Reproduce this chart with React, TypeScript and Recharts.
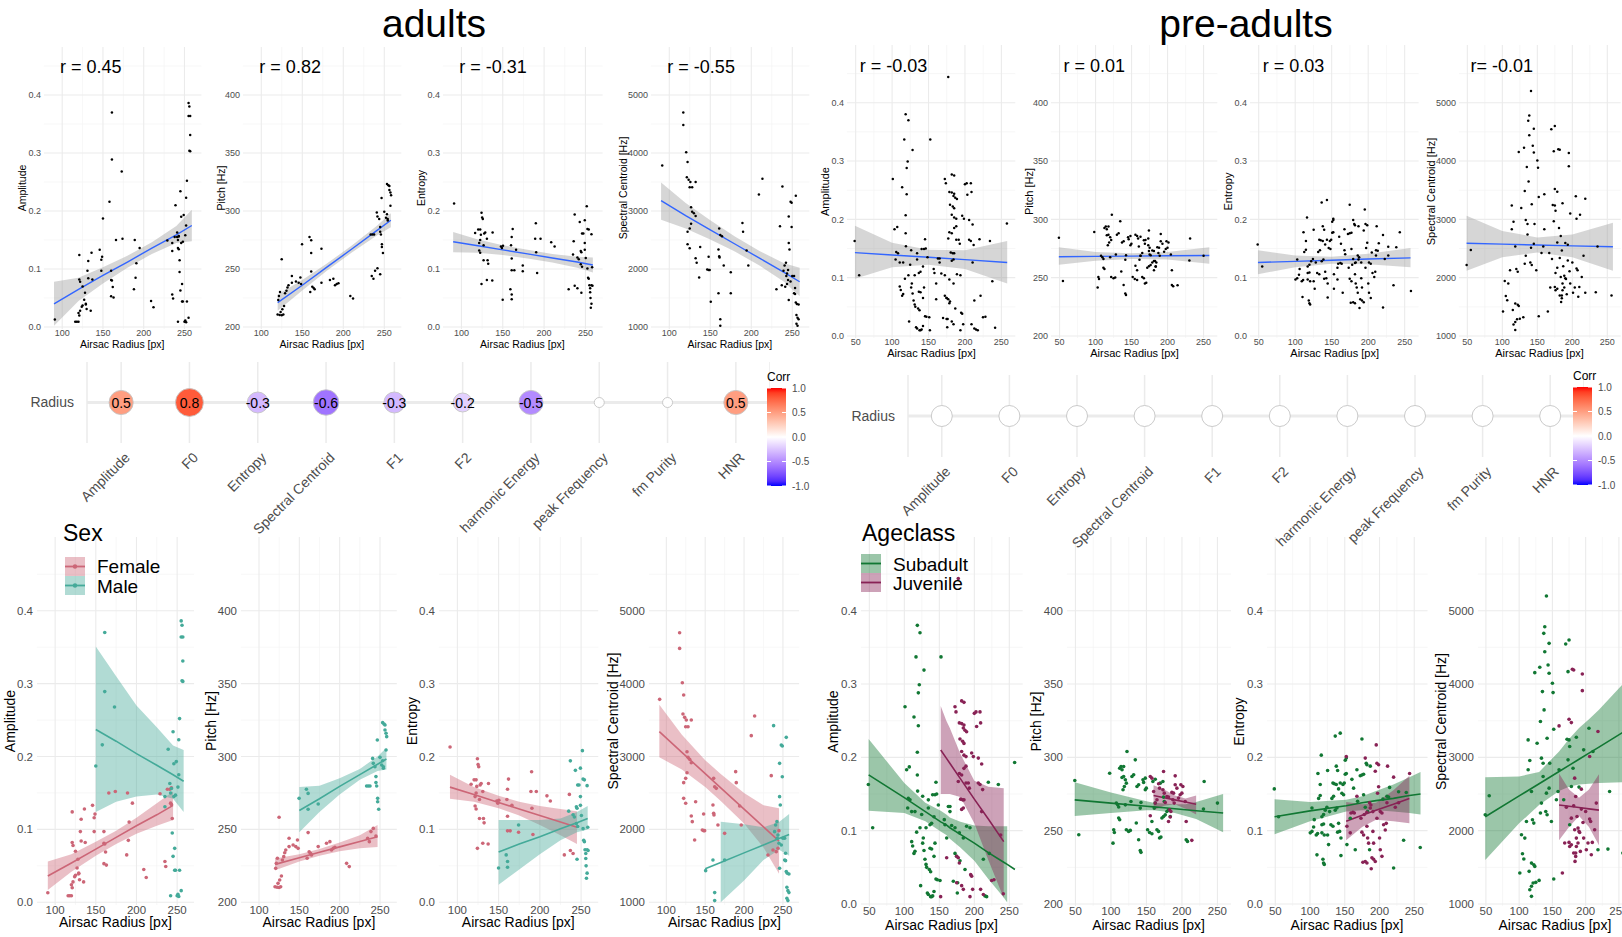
import React from "react";
import {
  CartesianGrid,
  ComposedChart,
  Area,
  Line,
  Scatter,
  ScatterChart,
  XAxis,
  YAxis,
} from "recharts";

type Pt = [number, number];
type Fit = [number, number | null, number, number | null]; // x, lower, fit, upper

const FONT = "'Liberation Sans', Arial, Helvetica, sans-serif";
const TICK = "#4D4D4D";

// ---- adults: points per sex (airsac radius, value) ----
const femaleAmp: Pt[] = [
  [91, 0.013], [116, 0.009], [118, 0.009], [120, 0.009], [121, 0.02], [120, 0.024], [122, 0.028], [124, 0.035],
  [125, 0.037], [121, 0.124], [122, 0.078], [121, 0.082], [125, 0.07], [127, 0.047], [129, 0.039], [130, 0.031],
  [128, 0.059], [131, 0.097], [132, 0.114], [132, 0.084], [136, 0.128], [137, 0.082], [146, 0.133], [148, 0.116],
  [149, 0.121], [148, 0.097], [135, 0.028], [129, 0.04], [160, 0.081], [161, 0.08], [160, 0.097], [160, 0.053],
  [162, 0.069], [163, 0.051], [166, 0.15], [174, 0.152], [189, 0.15], [190, 0.085], [191, 0.11], [195, 0.136],
  [188, 0.065], [209, 0.045], [212, 0.034], [229, 0.149], [235, 0.056], [236, 0.049], [238, 0.155], [241, 0.155],
  [243, 0.157], [242, 0.136], [244, 0.115], [243, 0.134],
];
const maleAmp: Pt[] = [
  [150, 0.187], [158, 0.216], [161, 0.37], [161, 0.289], [173, 0.268], [235, 0.131], [239, 0.21], [241, 0.163],
  [242, 0.15], [243, 0.156], [244, 0.095], [245, 0.234], [245, 0.063], [246, 0.19], [247, 0.074], [247, 0.044],
  [248, 0.044], [249, 0.193], [251, 0.158], [253, 0.252], [252, 0.175], [252, 0.223], [253, 0.044], [250, 0.009],
  [252, 0.008], [251, 0.011], [242, 0.009], [255, 0.016], [255, 0.386], [256, 0.38], [255, 0.364], [257, 0.364],
  [257, 0.331], [256, 0.304], [257, 0.303], [235, 0.145], [246, 0.145], [248, 0.147],
];
const femalePitch: Pt[] = [
  [120.7, 223.3], [121.5, 226.7], [122.8, 230.2], [119.9, 210.7], [122.4, 210.3], [124.9, 210.1], [126.9, 210.7],
  [123.6, 213], [125.7, 215.3], [127.8, 218], [124.9, 258.3], [129, 229], [130.7, 231.3], [131.9, 234], [133.2, 235.9],
  [137.3, 238.2], [137.3, 243.9], [142.3, 239.3], [145.6, 238.2], [148.5, 237], [147.7, 242.7], [159.7, 230.2],
  [160.9, 247.8], [162.2, 234.7], [163.8, 233.6], [165.1, 232.5], [173.4, 238.2], [183.7, 240.5], [187.9, 241.6],
  [189.9, 235.9], [192, 237], [194.1, 237.7], [208.6, 226.7], [211.9, 224.5], [234.7, 243.9], [236.8, 241.6],
  [238.8, 248.5], [241.7, 250.7], [245, 245.5],
];
const malePitch: Pt[] = [
  [149.7, 271.3], [158.8, 277.5], [160.9, 274.7], [160.9, 263.8], [173.4, 267.4], [233.4, 279.8], [235.5, 279.8],
  [237.6, 279.8], [240.9, 298.7], [241.7, 295.3], [243.8, 293], [245, 286.2], [245, 282.1], [245.9, 279.8],
  [246.7, 311.3], [247.1, 271.3], [247.1, 269], [248.4, 263.8], [250, 299.4], [252.1, 294.2], [254.2, 293],
  [253.3, 323.2], [255, 322.3], [256.2, 321.6], [256.2, 318.2], [257.5, 315.9], [258.3, 313.6], [257.5, 304.5],
  [253.3, 297.1], [254.2, 291.9],
];
const femaleEnt: Pt[] = [
  [91.1, 0.213], [116.6, 0.162], [120.3, 0.168], [122.7, 0.168], [121.5, 0.145], [122.7, 0.15], [123.5, 0.159],
  [121.5, 0.132], [122.7, 0.128], [124.3, 0.197], [125.1, 0.189], [125.9, 0.186], [126.8, 0.141], [127.6, 0.161],
  [128.8, 0.163], [126.8, 0.115], [124.3, 0.074], [130.8, 0.152], [131.6, 0.115], [132.4, 0.109], [130.8, 0.081],
  [137.7, 0.163], [137.3, 0.08], [147.8, 0.139], [149, 0.136], [150.3, 0.14], [160, 0.141], [160.8, 0.155],
  [162, 0.169], [160.8, 0.118], [160.8, 0.098], [164, 0.098], [166.1, 0.133], [174.2, 0.096], [190, 0.179],
  [189.2, 0.152], [195.7, 0.152], [190.4, 0.129], [208.6, 0.146], [212.7, 0.139], [191.6, 0.093], [229.7, 0.065],
  [235.8, 0.148], [237, 0.071], [240.3, 0.067],
];
const maleEnt: Pt[] = [
  [149.9, 0.047], [159.2, 0.065], [160.8, 0.056], [160.8, 0.048], [174.2, 0.106], [237, 0.194], [235, 0.125],
  [240.3, 0.12], [241.9, 0.117], [243.1, 0.181], [244.3, 0.131], [245.1, 0.129], [244.3, 0.108], [245.9, 0.104],
  [245.1, 0.059], [245.9, 0.161], [247.5, 0.161], [249.2, 0.184], [249.2, 0.145], [249.2, 0.133], [250.4, 0.119],
  [251.6, 0.208], [252.4, 0.169], [254, 0.168], [252.4, 0.101], [253.2, 0.085], [254, 0.083], [254.8, 0.072],
  [255.7, 0.067], [255.7, 0.06], [256.1, 0.05], [257.3, 0.04], [256.5, 0.033], [257.3, 0.16], [257.3, 0.072],
  [258.5, 0.071], [258.1, 0.103],
];
const femaleSC: Pt[] = [
  [91.4, 3784], [117.1, 4698], [117.1, 4483], [120.6, 4012], [122.3, 3843], [121.4, 3583], [123.6, 3537],
  [125.7, 3500], [124.9, 3409], [127.9, 3409], [132.1, 3500], [126.6, 3066], [127.9, 2988], [130, 2961],
  [132.1, 2915], [126.6, 2778], [124.9, 2700], [122.3, 2641], [122.3, 2426], [124.9, 2358], [137.7, 2380],
  [132.1, 2184], [133.4, 2106], [136.4, 1855], [148, 2211], [146.3, 1992], [148, 1983], [149.3, 1983],
  [160.9, 2700], [162.2, 2586], [164.3, 2563], [160, 2335], [160.9, 2220], [161.3, 2197], [166.4, 2060],
  [175, 1946], [189.2, 2792], [190, 2641], [194.3, 2321], [196.4, 2060], [209.3, 3286], [213.6, 3555],
  [235, 2737], [230.7, 1649], [237.2, 1718], [241.4, 1695], [243.6, 1741], [244.9, 1983],
];
const maleSC: Pt[] = [
  [150.6, 1434], [160, 1580], [162.2, 1133], [162.2, 1023], [175, 1580], [238, 3423], [242.7, 1878], [243.6, 1923],
  [239.3, 1969], [240.6, 2060], [242.3, 2106], [244.9, 1809], [245.7, 2449], [246.6, 2335], [245.7, 2906],
  [247.9, 3158], [249.2, 3144], [249.2, 2723], [245.7, 1466], [247.9, 1786], [250, 1878], [252.2, 1878],
  [252.2, 1581], [253.4, 1571], [254.3, 3263], [253.4, 1672], [254.3, 1421], [255.6, 1398], [257.7, 1389],
  [255.1, 1206], [256.4, 1160], [257.7, 1133], [255.1, 1055], [256.4, 1023],
];

// ---- pre-adults: points per age class ----
const subAmp: Pt[] = [
  [48.6, 0.163], [54.8, 0.104], [101, 0.269], [103.3, 0.183], [107.1, 0.187], [105.7, 0.144], [108.1, 0.142],
  [104.8, 0.131], [113.8, 0.255], [110.5, 0.085], [111.9, 0.079], [115.2, 0.072], [113.8, 0.069], [110.5, 0.126],
  [115.2, 0.126], [116.7, 0.337], [118.6, 0.38], [120, 0.288], [121.4, 0.299], [122.4, 0.37], [118.6, 0.207],
  [120, 0.243], [118.6, 0.176], [119, 0.154], [117.6, 0.098], [122.4, 0.104], [123.3, 0.025], [124.8, 0.122],
  [126.2, 0.147], [128.1, 0.319], [127.1, 0.09], [126.2, 0.083], [128.1, 0.073], [129.5, 0.061], [131, 0.104],
  [131, 0.054], [131.9, 0.05], [134.3, 0.131], [134.3, 0.142], [136.7, 0.108], [135.7, 0.047], [137.6, 0.044],
  [136.7, 0.076], [139, 0.075], [132.9, 0.015], [134.3, 0.013], [137.6, 0.01], [139, 0.01], [140.5, 0.011],
  [142.4, 0.017], [143.8, 0.083], [142.4, 0.065], [140.5, 0.149], [143.8, 0.149], [146.2, 0.15], [145.2, 0.166],
  [142.4, 0.119], [139, 0.11], [145.2, 0.034], [147.1, 0.033], [148.6, 0.135], [152.4, 0.337], [151, 0.032],
  [157.1, 0.115], [158.1, 0.108], [160.5, 0.09], [162.9, 0.133], [165.2, 0.133], [165.2, 0.126], [167.6, 0.107],
  [170, 0.031], [172.4, 0.069], [174.8, 0.065], [175.7, 0.015], [176.2, 0.029], [172.4, 0.104], [179.5, 0.059],
  [178.6, 0.097], [184.3, 0.09], [186.7, 0.047], [189, 0.106], [193.8, 0.104], [212.9, 0.061], [215.2, 0.011],
  [217.6, 0.01], [220, 0.166], [234.3, 0.163], [257.6, 0.193], [221.4, 0.069],
];
const juvAmp: Pt[] = [
  [151.9, 0.01], [160.5, 0.063], [172.4, 0.269], [173.8, 0.262], [178.6, 0.056], [181.9, 0.277], [185.2, 0.275],
  [178.6, 0.247], [181.9, 0.246], [185.2, 0.244], [184.3, 0.24], [186.7, 0.237], [179.5, 0.225], [183.3, 0.222],
  [185.2, 0.219], [189, 0.235], [181.9, 0.208], [185.2, 0.203], [188.1, 0.201], [178.6, 0.178], [181.9, 0.176],
  [185.2, 0.185], [188.1, 0.188], [177.1, 0.167], [180.5, 0.143], [183.3, 0.142], [185.2, 0.142], [181.9, 0.129],
  [184.3, 0.131], [188.1, 0.165], [191.4, 0.165], [192.9, 0.158], [196.2, 0.206], [198.6, 0.201], [200, 0.26],
  [202.4, 0.262], [203.3, 0.242], [205.7, 0.199], [208.1, 0.262], [209, 0.247], [210.5, 0.191], [205.7, 0.165],
  [208.1, 0.163], [211.9, 0.156], [174.8, 0.065], [177.1, 0.063], [174.8, 0.029], [181.9, 0.025], [184.3, 0.02],
  [193.8, 0.01], [197.6, 0.02], [194.8, 0.04], [196.2, 0.038], [209, 0.02], [212.9, 0.013], [224.8, 0.032],
  [228.1, 0.033], [241.4, 0.014], [237.6, 0.094], [210.5, 0.126], [177.1, 0.444],
];
const subPitch: Pt[] = [
  [49.1, 284.2], [54.7, 247.2], [98.2, 289.2], [102.9, 241.5], [103.9, 250.6], [104.8, 248.8], [107.6, 268.8],
  [109.5, 267.6], [110.9, 266.1], [110.9, 258.6], [112.3, 257.4], [112.3, 292.6], [114.2, 293.8], [115.6, 291.5],
  [117.9, 293.8], [115.6, 286.3], [117.9, 286.9], [120.3, 284.7], [122.6, 304], [117, 277.9], [118.9, 280.1],
  [121.7, 282.4], [120.3, 267.6], [121.7, 250.6], [124.9, 249.5], [127.3, 250.2], [128.2, 269.9], [129.6, 286.9],
  [132, 288.1], [134.3, 298.3], [136.7, 280.1], [139, 281.3], [135.7, 255.2], [139, 243.8], [141.3, 236.5],
  [142.3, 235.2], [142.3, 269.2], [145.1, 284.7], [146, 282.9], [148.4, 285.8], [148.4, 277.9], [149.8, 279],
  [141.3, 265.4], [151.6, 250.6], [154.4, 248.8], [157.7, 247.9], [157.7, 256.3], [161, 265.4], [162.4, 268.8],
  [164.8, 250.6], [167.1, 249.5], [159.1, 283.5], [162.4, 285.1], [169.4, 282.4], [173.2, 283.5], [174.1, 272.9],
  [175.1, 269.9], [171.8, 258.6], [168.5, 245], [170.4, 245.6], [174.1, 259.7], [176.5, 260.8], [178.8, 263.1],
  [181.1, 264.2], [183.5, 259.7], [206, 243.8], [207.8, 242.7], [230.3, 264.7], [231.3, 283.5], [250, 268.8],
];
const juvPitch: Pt[] = [
  [155.4, 286.9], [157.7, 285.8], [155.4, 260.2], [160.1, 276.7], [162.4, 268.8], [167.1, 282], [168.5, 279],
  [174.1, 290.4], [173.2, 277.9], [175.1, 275.6], [176.5, 269.2], [178.8, 273.3], [181.1, 272.9], [182.6, 264.2],
  [184.4, 263.1], [181.1, 256.3], [183.5, 259.3], [185.8, 276.1], [188.2, 275.6], [187.2, 271.1], [190.5, 281.3],
  [192.9, 279], [190.5, 287.4], [195.2, 272.2], [197.5, 274.5], [199.9, 275.6], [198.5, 281.3], [201.3, 280.1],
  [204.6, 269.9], [206, 256.3], [213.9, 243.4], [164.8, 271.1], [189.1, 268.8],
];
const subEnt: Pt[] = [
  [48.6, 0.157], [54.8, 0.119], [100.4, 0.097], [102.8, 0.099], [106.1, 0.115], [105.2, 0.105], [109, 0.094],
  [110.9, 0.096], [110, 0.067], [111.4, 0.178], [112.4, 0.144], [114.7, 0.148], [114.7, 0.163], [116.2, 0.203],
  [117.1, 0.119], [119.5, 0.122], [117.1, 0.108], [119.5, 0.109], [117.1, 0.097], [120.5, 0.094], [118.6, 0.061],
  [119.5, 0.056], [120.5, 0.054], [121.9, 0.128], [124.3, 0.132], [125.3, 0.182], [125.3, 0.094], [126.7, 0.081],
  [128.2, 0.126], [130.1, 0.108], [133, 0.106], [131.5, 0.144], [133.9, 0.147], [133, 0.165], [134.9, 0.164],
  [137.8, 0.163], [136.3, 0.128], [138.7, 0.131], [136.3, 0.229], [137.8, 0.188], [139.7, 0.182], [141.1, 0.11],
  [139.7, 0.098], [142.6, 0.099], [141.1, 0.157], [143.5, 0.233], [144.5, 0.09], [144.5, 0.066], [143.5, 0.165],
  [147.4, 0.163], [149.3, 0.165], [150.7, 0.177], [152.2, 0.178], [150.7, 0.196], [152.2, 0.199], [145.9, 0.151],
  [148.3, 0.149], [153.1, 0.081], [157.9, 0.117], [162.7, 0.158], [160.3, 0.17], [165.1, 0.074], [167.5, 0.183],
  [168.5, 0.14], [172.3, 0.175], [174.7, 0.176], [177.1, 0.177], [174.7, 0.225], [177.1, 0.149], [180.9, 0.192],
  [181.9, 0.19], [179.5, 0.132], [182.9, 0.126], [185.7, 0.074], [186.7, 0.188], [204.9, 0.143], [210.7, 0.147],
  [213.1, 0.146], [214.5, 0.159], [220.3, 0.049], [227.5, 0.153], [234.7, 0.087], [238.5, 0.152], [258.6, 0.077],
  [102.8, 0.131],
];
const juvEnt: Pt[] = [
  [152.2, 0.201], [153.1, 0.106], [157.9, 0.097], [158.9, 0.124], [161.8, 0.125], [163.7, 0.124], [167.5, 0.147],
  [173.3, 0.117], [174.7, 0.098], [177.1, 0.094], [176.1, 0.057], [179.5, 0.058], [181.9, 0.056], [178.1, 0.122],
  [181.9, 0.125], [179.5, 0.199], [181.9, 0.106], [182.9, 0.09], [184.3, 0.083], [185.7, 0.138], [187.6, 0.135],
  [186.7, 0.131], [190.5, 0.126], [189.1, 0.063], [191.5, 0.061], [193.9, 0.058], [188.1, 0.048], [190.5, 0.099],
  [193.9, 0.181], [196.3, 0.192], [198.7, 0.19], [195.3, 0.217], [197.2, 0.151], [198.7, 0.16], [196.3, 0.117],
  [201.1, 0.126], [203.5, 0.124], [200.1, 0.09], [201.1, 0.074], [203.5, 0.065], [205.9, 0.108], [208.3, 0.101],
  [209.7, 0.11], [211.6, 0.188], [210.7, 0.138], [220.3, 0.173], [222.7, 0.132], [227.5, 0.138], [243.3, 0.178],
  [191.5, 0.083],
];
const subSC: Pt[] = [
  [49, 2217], [55, 2476], [101, 1422], [103.5, 1944], [105, 1686], [107, 1613], [108.5, 1899], [111, 2126],
  [113.5, 2830], [115, 1445], [116, 1195], [118.5, 1241], [121, 1286], [118.5, 1104], [118.5, 1558], [116, 2957],
  [113.5, 3238], [118.5, 2535], [120, 2149], [122, 2103], [122, 1536], [123.5, 1513], [125, 1295], [123.5, 4155],
  [127, 3193], [130, 1322], [131, 4228], [132, 3488], [135, 3897], [133.5, 2989], [136, 2920], [133.5, 2376],
  [132, 2240], [136, 2739], [137.5, 3647], [138.5, 4441], [138.5, 4782], [137, 4691], [140, 2262], [142, 2217],
  [141, 5200], [143.5, 4260], [145, 4146], [145, 4555], [142, 3261], [141, 2512], [145, 2580], [146, 2920],
  [148.5, 2126], [150, 4010], [151, 3883], [152, 1340], [152, 3384], [156, 2421], [158.5, 2535], [160, 2830],
  [167, 2421], [170, 4546], [173.5, 4169], [175, 4600], [172, 3247], [175, 3238], [176, 3147], [173.5, 2966],
  [176, 2080], [178.5, 2603], [181, 2852], [186, 3275], [190, 2594], [197, 3102], [205, 3397], [211, 3079],
  [218.5, 1740], [233.5, 1749], [236, 2535], [256, 1695],
];
const juvSC: Pt[] = [
  [160, 3429], [165, 1422], [171, 2321], [175, 3520], [178.5, 3474], [180, 4201], [182, 4192], [175, 1840],
  [178.5, 1808], [176, 1785], [182, 1695], [178.5, 2171], [182, 2339], [183.5, 2012], [184, 1581], [185, 1695],
  [185, 1649], [186, 1785], [188.5, 1831], [183.5, 2716], [185, 2466], [186, 1899], [188.5, 2035], [190, 1990],
  [191, 1976], [187, 2194], [192, 1717], [193.5, 2294], [193.5, 2566], [195, 4137], [195, 3910], [196, 2112],
  [197, 1899], [200, 2262], [201, 1740], [203.5, 1831], [206, 2158], [206, 3011], [207.5, 2126], [208.5, 1672],
  [210, 1840], [213.5, 2012], [218.5, 3352], [216, 2376], [168.5, 1831],
];

// ---- fitted lines with confidence bands ----
const topAmpAdultFit: Fit[] = [[90, 0.002, 0.04, 0.078], [120, 0.045, 0.065, 0.085], [150, 0.075, 0.089, 0.103], [180, 0.102, 0.112, 0.123], [210, 0.126, 0.136, 0.146], [240, 0.145, 0.159, 0.174], [259, 0.148, 0.175, 0.202]];
const topPitchAdultFit: Fit[] = [[120, 214, 221, 228], [150, 231.5, 236, 240.5], [180, 248.5, 251.6, 254.7], [210, 264, 267, 270], [240, 278.5, 282.6, 286.7], [258, 286, 292, 298]];
const topEntAdultFit: Fit[] = [[90, 0.129, 0.147, 0.164], [120, 0.128, 0.14, 0.151], [150, 0.124, 0.133, 0.141], [180, 0.118, 0.126, 0.133], [210, 0.111, 0.119, 0.126], [240, 0.102, 0.112, 0.121], [259, 0.094, 0.107, 0.12]];
const topScAdultFit: Fit[] = [[90, 2850, 3180, 3490], [120, 2700, 2920, 3140], [150, 2510, 2675, 2840], [180, 2300, 2431, 2560], [210, 2060, 2187, 2310], [240, 1780, 1943, 2100], [259, 1530, 1780, 2020]];
const topAmpPreFit: Fit[] = [[49, 0.098, 0.143, 0.189], [100, 0.118, 0.139, 0.16], [150, 0.122, 0.135, 0.148], [200, 0.115, 0.131, 0.147], [258, 0.09, 0.126, 0.163]];
const topPitchPreFit: Fit[] = [[49, 261, 268, 276], [100, 264.5, 268.3, 272], [150, 266, 268.5, 271], [200, 265.5, 268.8, 272], [258, 262, 269, 276]];
const topEntPreFit: Fit[] = [[49, 0.106, 0.126, 0.147], [100, 0.118, 0.128, 0.138], [150, 0.124, 0.13, 0.136], [200, 0.123, 0.132, 0.141], [258, 0.118, 0.134, 0.151]];
const topScPreFit: Fit[] = [[49, 2120, 2590, 3060], [100, 2350, 2575, 2800], [150, 2430, 2560, 2690], [200, 2350, 2545, 2740], [258, 2120, 2530, 2940]];

const ampFemaleFit: Fit[] = [[91, 0.017, 0.036, 0.056], [120, 0.042, 0.054, 0.066], [150, 0.064, 0.073, 0.083], [175, 0.08, 0.089, 0.098], [200, 0.094, 0.105, 0.116], [225, 0.105, 0.12, 0.136], [245, 0.113, 0.133, 0.152]];
const ampMaleFit: Fit[] = [[150, 0.124, 0.237, 0.351], [175, 0.138, 0.221, 0.31], [200, 0.145, 0.204, 0.27], [225, 0.148, 0.188, 0.24], [245, 0.142, 0.175, 0.215], [258, 0.124, 0.166, 0.209]];
const pitchFemaleFit: Fit[] = [[120, 222, 226, 230], [150, 228, 230.5, 233], [175, 232, 234.3, 236.5], [200, 235, 238, 241], [225, 237, 241.7, 246], [247, 238, 245, 253]];
const pitchMaleFit: Fit[] = [[150, 248, 263, 279], [175, 262, 271, 280], [200, 274, 279.5, 285], [225, 284, 287.6, 291.5], [247, 290, 294.7, 300], [258, 291, 298.3, 306]];
const entFemaleFit: Fit[] = [[91, 0.142, 0.158, 0.175], [120, 0.138, 0.148, 0.158], [150, 0.129, 0.137, 0.146], [175, 0.119, 0.128, 0.138], [200, 0.106, 0.119, 0.132], [225, 0.092, 0.11, 0.128], [245, 0.08, 0.103, 0.125]];
const entMaleFit: Fit[] = [[150, 0.024, 0.069, 0.113], [175, 0.045, 0.08, 0.113], [200, 0.066, 0.09, 0.113], [225, 0.085, 0.101, 0.115], [245, 0.096, 0.109, 0.124], [258, 0.1, 0.115, 0.132]];
const scFemaleFit: Fit[] = [[91, 2990, 3340, 3710], [120, 2820, 3057, 3300], [150, 2580, 2765, 2950], [170, 2390, 2570, 2760], [200, 2080, 2278, 2500], [225, 1750, 2035, 2330], [245, 1390, 1840, 2290]];
const scMaleFit: Fit[] = [[150, null, 1460, null], [170, 1000, 1547, 2106], [200, 1300, 1678, 2070], [225, 1580, 1787, 2030], [245, 1720, 1874, 2100], [258, 1640, 1930, 2210]];

const ampSubFit: Fit[] = [[49, 0.127, 0.176, 0.225], [100, 0.124, 0.145, 0.165], [130, 0.113, 0.126, 0.138], [152, 0.099, 0.112, 0.127], [160, 0.094, 0.108, 0.122], [165, 0.089, 0.104, 0.118], [180, 0.077, 0.095, 0.112], [200, 0.059, 0.083, 0.107], [220, 0.034, 0.07, 0.106], [242, 0.009, 0.057, 0.106], [247, 0.002, 0.054, 0.106], [258, null, 0.047, null]];
const ampJuvFit: Fit[] = [[152, 0.15, 0.21, 0.27], [160, 0.15, 0.199, 0.25], [165, 0.15, 0.192, 0.24], [180, 0.146, 0.171, 0.205], [200, 0.11, 0.143, 0.168], [220, 0.06, 0.116, 0.16], [242, 0.008, 0.085, 0.158]];
const pitchSubFit: Fit[] = [[49, 260, 271, 283], [100, 262, 268.8, 276], [150, 264, 266.7, 270], [160, 264, 266.2, 269], [175, 263, 265.6, 268.5], [190, 262, 264.9, 268], [205, 260, 264.3, 268], [220, 258, 263.6, 269.5], [258, 249, 262, 275]];
const pitchJuvFit: Fit[] = [[160, 264, 274, 281], [175, 267, 272.5, 278], [190, 268, 271, 274], [205, 265, 269.5, 272], [220, 261, 268, 274]];
const entSubFit: Fit[] = [[49, 0.095, 0.119, 0.143], [100, 0.113, 0.127, 0.139], [152, 0.126, 0.134, 0.142], [175, 0.128, 0.138, 0.147], [195, 0.128, 0.141, 0.154], [220, 0.126, 0.144, 0.163], [243, 0.124, 0.148, 0.173], [259, 0.122, 0.15, 0.18]];
const entJuvFit: Fit[] = [[152, 0.087, 0.113, 0.139], [175, 0.105, 0.121, 0.136], [195, 0.115, 0.128, 0.138], [220, 0.113, 0.136, 0.155], [243, 0.11, 0.144, 0.175]];
const scSubFit: Fit[] = [[49, 1600, 2190, 2730], [100, 2100, 2474, 2740], [130, 2350, 2640, 2800], [160, 2540, 2807, 3080], [175, 2600, 2890, 3250], [190, 2630, 2974, 3400], [205, 2640, 3057, 3520], [220, 2650, 3140, 3650], [258, 2660, 3352, 4020]];
const scJuvFit: Fit[] = [[160, 1870, 2350, 2780], [175, 2050, 2332, 2560], [190, 2200, 2315, 2450], [205, 2050, 2297, 2560], [220, 1800, 2280, 2770]];

// ---- correlation rows ----
const corrVars = ["Amplitude", "F0", "Entropy", "Spectral Centroid", "F1", "F2", "harmonic Energy", "peak Frequency", "fm Purity", "HNR"];
const adultCorr: (number | null)[] = [0.5, 0.8, -0.3, -0.6, -0.3, -0.2, -0.5, null, null, 0.5];
const preCorr: (number | null)[] = [null, null, null, null, null, null, null, null, null, null];
const corrBarTicks = [1, 0.5, 0, -0.5, -1];

const adultR = ["r = 0.45", "r = 0.82", "r = -0.31", "r = -0.55"];
const preR = ["r = -0.03", "r = 0.01", "r = 0.03", "r= -0.01"];

const xTicksAdult = [100, 150, 200, 250];
const xTicksPre = [50, 100, 150, 200, 250];
const ampTicks = [0, 0.1, 0.2, 0.3, 0.4];
const pitchTicks = [200, 250, 300, 350, 400];
const scTicks = [1000, 2000, 3000, 4000, 5000];

const C = { female: "#CC6677", male: "#44AA99", sub: "#117733", juv: "#882255" };

// ---- colour helpers (Lab interpolation like ggplot gradient2) ----
const toLin = (c: number) => { c /= 255; return c <= 0.04045 ? c / 12.92 : Math.pow((c + 0.055) / 1.055, 2.4); };
const fromLin = (c: number) => { const v = c <= 0.0031308 ? 12.92 * c : 1.055 * Math.pow(c, 1 / 2.4) - 0.055; return Math.round(Math.max(0, Math.min(1, v)) * 255); };
function rgb2lab([r, g, b]: number[]) {
  const R = toLin(r), G = toLin(g), B = toLin(b);
  const X = (0.4124564 * R + 0.3575761 * G + 0.1804375 * B) / 0.95047;
  const Y = 0.2126729 * R + 0.7151522 * G + 0.072175 * B;
  const Z = (0.0193339 * R + 0.119192 * G + 0.9503041 * B) / 1.08883;
  const f = (t: number) => (t > 0.008856 ? Math.cbrt(t) : 7.787 * t + 16 / 116);
  const fx = f(X), fy = f(Y), fz = f(Z);
  return [116 * fy - 16, 500 * (fx - fy), 200 * (fy - fz)];
}
function lab2rgb([L, a, b]: number[]) {
  const fy = (L + 16) / 116, fx = fy + a / 500, fz = fy - b / 200;
  const fi = (t: number) => (t * t * t > 0.008856 ? t * t * t : (t - 16 / 116) / 7.787);
  const X = fi(fx) * 0.95047, Y = fi(fy), Z = fi(fz) * 1.08883;
  const R = 3.2404542 * X - 1.5371385 * Y - 0.4985314 * Z;
  const G = -0.969266 * X + 1.8760108 * Y + 0.041556 * Z;
  const B = 0.0556434 * X - 0.2040259 * Y + 1.0572252 * Z;
  return [fromLin(R), fromLin(G), fromLin(B)];
}
const LW = rgb2lab([255, 255, 255]), LR = rgb2lab([255, 0, 0]), LB = rgb2lab([0, 0, 255]);
function corrColor(v: number) {
  const end = v >= 0 ? LR : LB;
  const t = Math.min(1, Math.abs(v));
  const [r, g, b] = lab2rgb(LW.map((w, i) => w + (end[i] - w) * t));
  return `rgb(${r},${g},${b})`;
}

// ---- panel layout ----
interface Group { pts: Pt[]; fit: Fit[]; point: string; line: string; band: string; bandOpacity: number }
interface Cfg {
  xCal: number[]; xDom: number[]; yCal: number[]; yPx: number[];
  xTicks: number[]; yTicks: number[]; yLabel: string; groups: Group[];
  small: boolean; yTitleOff: number; xTitleY: number; r?: string; rX?: number; rY?: number;
}

const lin = (c: number[]) => {
  const k = (c[3] - c[1]) / (c[2] - c[0]);
  return { px: (v: number) => c[1] + (v - c[0]) * k, val: (p: number) => c[0] + (p - c[1]) / k };
};
function geom(c: Cfg) {
  const xs = lin(c.xCal), ys = lin(c.yCal);
  const left = xs.px(c.xDom[0]), right = xs.px(c.xDom[1]);
  const [top, bottom] = c.yPx;
  return { xs, left, right, top, bottom, yDom: [ys.val(bottom), ys.val(top)] };
}

const ADULT_X = [77.7, 270.8];
const PRE_X = [38.1, 269.1];

const topGroup = (pts: Pt[], fit: Fit[]): Group => ({ pts, fit, point: "#000", line: "#3366FF", band: "#999999", bandOpacity: 0.4 });
const grp = (pts: Pt[], fit: Fit[], col: string): Group => ({ pts, fit, point: col, line: col, band: col, bandOpacity: 0.42 });

function topAdult(i: number, xCal: number[], yLabel: string, ticks: number[], tv: number, bv: number, g: Group, off: number): Cfg {
  return { xCal, xDom: ADULT_X, yCal: [bv, 327, tv, 95], yPx: [47, 329], xTicks: xTicksAdult, yTicks: ticks, yLabel, groups: [g], small: true, yTitleOff: off, xTitleY: 344, r: adultR[i], rX: 98, rY: 72.5 };
}
function topPre(i: number, xCal: number[], yLabel: string, ticks: number[], tv: number, bv: number, g: Group, off: number): Cfg {
  return { xCal, xDom: PRE_X, yCal: [bv, 336, tv, 102.7], yPx: [45, 338], xTicks: xTicksPre, yTicks: ticks, yLabel, groups: [g], small: true, yTitleOff: off, xTitleY: 353, r: preR[i], rX: 55, rY: 71.5 };
}
function botAdult(xCal: number[], yLabel: string, ticks: number[], tv: number, bv: number, gs: Group[], off: number): Cfg {
  return { xCal, xDom: ADULT_X, yCal: [bv, 902.3, tv, 610.7], yPx: [537, 905], xTicks: xTicksAdult, yTicks: ticks, yLabel, groups: gs, small: false, yTitleOff: off, xTitleY: 922 };
}
function botPre(xCal: number[], yLabel: string, ticks: number[], tv: number, bv: number, gs: Group[], off: number): Cfg {
  return { xCal, xDom: PRE_X, yCal: [bv, 904, tv, 610.7], yPx: [537, 906], xTicks: xTicksPre, yTicks: ticks, yLabel, groups: gs, small: false, yTitleOff: off, xTitleY: 925 };
}

const panels: Cfg[] = [
  topAdult(0, [100, 61.7, 250, 184], "Amplitude", ampTicks, 0.4, 0, topGroup([...femaleAmp, ...maleAmp], topAmpAdultFit), 22),
  topAdult(1, [100, 261, 250, 384], "Pitch [Hz]", pitchTicks, 400, 200, topGroup([...femalePitch, ...malePitch], topPitchAdultFit), 22),
  topAdult(2, [100, 461, 250, 585], "Entropy", ampTicks, 0.4, 0, topGroup([...femaleEnt, ...maleEnt], topEntAdultFit), 22),
  topAdult(3, [100, 669, 250, 792], "Spectral Centroid [Hz]", scTicks, 5000, 1000, topGroup([...femaleSC, ...maleSC], topScAdultFit), 28),
  topPre(0, [50, 856, 250, 1001.7], "Amplitude", ampTicks, 0.4, 0, topGroup([...subAmp, ...juvAmp], topAmpPreFit), 22),
  topPre(1, [50, 1060, 250, 1204], "Pitch [Hz]", pitchTicks, 400, 200, topGroup([...subPitch, ...juvPitch], topPitchPreFit), 22),
  topPre(2, [50, 1259, 250, 1405], "Entropy", ampTicks, 0.4, 0, topGroup([...subEnt, ...juvEnt], topEntPreFit), 22),
  topPre(3, [50, 1467, 250, 1607], "Spectral Centroid [Hz]", scTicks, 5000, 1000, topGroup([...subSC, ...juvSC], topScPreFit), 28),
  botAdult([100, 55, 250, 177], "Amplitude", ampTicks, 0.4, 0, [grp(femaleAmp, ampFemaleFit, C.female), grp(maleAmp, ampMaleFit, C.male)], 27),
  botAdult([100, 259, 250, 380], "Pitch [Hz]", pitchTicks, 400, 200, [grp(femalePitch, pitchFemaleFit, C.female), grp(malePitch, pitchMaleFit, C.male)], 30),
  botAdult([100, 457, 250, 580.7], "Entropy", ampTicks, 0.4, 0, [grp(femaleEnt, entFemaleFit, C.female), grp(maleEnt, entMaleFit, C.male)], 27),
  botAdult([100, 666.7, 250, 783.3], "Spectral Centroid [Hz]", scTicks, 5000, 1000, [grp(femaleSC, scFemaleFit, C.female), grp(maleSC, scMaleFit, C.male)], 36),
  botPre([50, 869, 250, 1009], "Amplitude", ampTicks, 0.4, 0, [grp(subAmp, ampSubFit, C.sub), grp(juvAmp, ampJuvFit, C.juv)], 28),
  botPre([50, 1075, 250, 1217], "Pitch [Hz]", pitchTicks, 400, 200, [grp(subPitch, pitchSubFit, C.sub), grp(juvPitch, pitchJuvFit, C.juv)], 31),
  botPre([50, 1275, 250, 1414], "Entropy", ampTicks, 0.4, 0, [grp(subEnt, entSubFit, C.sub), grp(juvEnt, entJuvFit, C.juv)], 28),
  botPre([50, 1486, 250, 1619], "Spectral Centroid [Hz]", scTicks, 5000, 1000, [grp(subSC, scSubFit, C.sub), grp(juvSC, scJuvFit, C.juv)], 37),
];

function buildRows(groups: Group[]) {
  const xs = Array.from(new Set(groups.flatMap((g) => g.fit.map((f) => f[0])))).sort((a, b) => a - b);
  return xs.map((x) => {
    const row: Record<string, number | null> = { x };
    groups.forEach((g, i) => {
      const f = g.fit.find((e) => e[0] === x);
      row[`lo${i}`] = f ? f[1] : null;
      row[`fit${i}`] = f ? f[2] : null;
      row[`hi${i}`] = f ? f[3] : null;
    });
    return row;
  });
}

const fmtY = (ticks: number[]) => (v: number) => (ticks[ticks.length - 1] < 1 ? v.toFixed(1) : String(v));

function Panel({ c }: { c: Cfg }) {
  const { left, right, top, bottom, yDom } = geom(c);
  const YW = 50, XH = 18;
  const w = right - left + YW + 2;
  const h = bottom - top + XH;
  const rows = buildRows(c.groups);
  const tickFs = c.small ? 9 : 11.5;
  const inX = (v: number) => v > c.xDom[0] && v < c.xDom[1];
  const inY = (v: number) => v > yDom[0] && v < yDom[1];
  const step = c.yTicks[1] - c.yTicks[0];
  const minorY = [...c.yTicks, c.yTicks[c.yTicks.length - 1] + step].map((v) => v - step / 2).filter(inY);
  const minorX = [...c.xTicks, 300].map((v) => v - 25).filter(inX);
  const pr = c.small ? 1.25 : 1.8;
  return (
    <div style={{ position: "absolute", left: left - YW, top, width: w, height: h }}>
      <ComposedChart width={w} height={h} data={rows} margin={{ top: 0, right: 2, bottom: 0, left: 0 }}>
        <CartesianGrid stroke="#F4F4F4" strokeWidth={0.7} horizontalValues={minorY} verticalValues={minorX} />
        <CartesianGrid stroke="#EBEBEB" strokeWidth={1.1} horizontalValues={c.yTicks.filter(inY)} verticalValues={c.xTicks.filter(inX)} />
        <XAxis type="number" dataKey="x" domain={c.xDom} allowDataOverflow ticks={c.xTicks} interval={0}
          axisLine={false} tickLine={false} tickSize={0} tickMargin={1} height={XH}
          tick={{ fontSize: tickFs, fill: TICK, fontFamily: FONT }} />
        <YAxis type="number" domain={yDom} allowDataOverflow ticks={c.yTicks} interval={0} width={YW}
          axisLine={false} tickLine={false} tickSize={0} tickMargin={c.small ? 3 : 4} tickFormatter={fmtY(c.yTicks)}
          tick={{ fontSize: tickFs, fill: TICK, fontFamily: FONT }} />
        {c.groups.map((g, i) => (
          <Scatter key={`s${i}`} data={g.pts.map(([x, y]) => ({ x, y }))} dataKey="y" fill={g.point}
            isAnimationActive={false}
            shape={(p: any) => <circle cx={p.cx} cy={p.cy} r={pr} fill={g.point} />} />
        ))}
        {c.groups.map((g, i) => (
          <Area key={`a${i}`} type="linear" dataKey={(d: any) => (d[`lo${i}`] == null ? null : [d[`lo${i}`], d[`hi${i}`]])}
            stroke="none" fill={g.band} fillOpacity={g.bandOpacity} isAnimationActive={false} dot={false} activeDot={false} />
        ))}
        {c.groups.map((g, i) => (
          <Line key={`l${i}`} type="linear" dataKey={`fit${i}`} stroke={g.line} strokeWidth={c.small ? 1.4 : 1.6}
            dot={false} activeDot={false} isAnimationActive={false} />
        ))}
      </ComposedChart>
    </div>
  );
}

function CorrTick(p: any) {
  const x = p.x + 6, y = p.y + 10;
  return (
    <text x={x} y={y} transform={`rotate(-45 ${x} ${y})`} textAnchor="end" dominantBaseline="central"
      fontSize={14} fill={TICK} fontFamily={FONT}>{p.payload.value}</text>
  );
}

function CorrRow({ values, left, right, top, bottom, blank }: { values: (number | null)[]; left: number; right: number; top: number; bottom: number; blank: number }) {
  const YW = 90, XH = 120;
  const w = right - left + YW;
  const h = bottom - top + XH;
  const pad = (right - left) / 20;
  const data = corrVars.map((name, i) => ({ name, y: 1, corr: values[i] }));
  return (
    <div style={{ position: "absolute", left: left - YW, top, width: w, height: h }}>
      <ScatterChart width={w} height={h} margin={{ top: 0, right: 0, bottom: 0, left: 0 }}>
        <CartesianGrid stroke="#EBEBEB" strokeWidth={3} vertical={false} horizontalValues={[1]} />
        <CartesianGrid stroke="#EBEBEB" strokeWidth={1.5} horizontal={false} />
        <XAxis type="category" dataKey="name" scale="point" padding={{ left: pad, right: pad }} allowDuplicatedCategory={false}
          axisLine={false} tickLine={false} tickSize={0} height={XH} interval={0} tick={CorrTick} />
        <YAxis type="number" dataKey="y" domain={[0, 2]} ticks={[1]} width={YW} axisLine={false} tickLine={false}
          tickSize={0} tickMargin={13} tickFormatter={() => "Radius"} tick={{ fontSize: 14, fill: TICK, fontFamily: FONT }} />
        <Scatter data={data} dataKey="y" isAnimationActive={false}
          shape={(p: any) => {
            const v = p.payload.corr;
            const d = v == null ? blank : 10 + 20 * Math.sqrt(Math.abs(v));
            return (
              <g>
                <circle cx={p.cx} cy={p.cy} r={d / 2} fill={v == null ? "#FFFFFF" : corrColor(v)} stroke="#C4C4C4" strokeWidth={0.9} />
                {v != null && (
                  <text x={p.cx} y={p.cy} textAnchor="middle" dominantBaseline="central" fontSize={14} fill="#000" fontFamily={FONT}>{v.toFixed(1)}</text>
                )}
              </g>
            );
          }} />
      </ScatterChart>
    </div>
  );
}

function ColorBar({ x, top, bottom, id }: { x: number; top: number; bottom: number; id: string }) {
  const stops = Array.from({ length: 21 }, (_, i) => 1 - i * 0.1);
  const yOf = (v: number) => top + ((1 - v) / 2) * (bottom - top);
  return (
    <g fontFamily={FONT}>
      <defs>
        <linearGradient id={id} x1="0" y1="0" x2="0" y2="1">
          {stops.map((v, i) => <stop key={i} offset={`${i * 5}%`} stopColor={corrColor(v)} />)}
        </linearGradient>
      </defs>
      <text x={x} y={top - 11} fontSize={12} fill="#000" dominantBaseline="central">Corr</text>
      <rect x={x} y={top} width={19} height={bottom - top} fill={`url(#${id})`} />
      {corrBarTicks.map((v) => (
        <g key={v}>
          <line x1={x} x2={x + 4} y1={yOf(v)} y2={yOf(v)} stroke="#fff" strokeWidth={1} />
          <line x1={x + 15} x2={x + 19} y1={yOf(v)} y2={yOf(v)} stroke="#fff" strokeWidth={1} />
          <text x={x + 25} y={yOf(v)} fontSize={10} fill={TICK} dominantBaseline="central">{v === 0 ? "0.0" : v.toFixed(1)}</text>
        </g>
      ))}
    </g>
  );
}

function LegendKey({ x, y, color, dot }: { x: number; y: number; color: string; dot: boolean }) {
  return (
    <g>
      <rect x={x} y={y} width={20} height={19} fill={color} fillOpacity={0.42} />
      <line x1={x} x2={x + 20} y1={y + 9.5} y2={y + 9.5} stroke={color} strokeWidth={1.8} />
      {dot && <circle cx={x + 10} cy={y + 9.5} r={2.2} fill={color} />}
    </g>
  );
}

export default function App() {
  return (
    <div style={{ position: "absolute", left: 0, top: 0, width: 1622, height: 937, overflow: "hidden", background: "#fff", fontFamily: FONT }}>
      {panels.map((c, i) => <Panel key={i} c={c} />)}
      <CorrRow values={adultCorr} left={87} right={770} top={362} bottom={443} blank={10} />
      <CorrRow values={preCorr} left={908} right={1584} top={375} bottom={457} blank={21} />
      <svg width={1622} height={937} style={{ position: "absolute", left: 0, top: 0, pointerEvents: "none" }} fontFamily={FONT}>
        <text x={434} y={37} fontSize={39} textAnchor="middle" fill="#000">adults</text>
        <text x={1246} y={37} fontSize={39} textAnchor="middle" fill="#000">pre-adults</text>
        {panels.map((c, i) => {
          const g = geom(c);
          const fs = c.small ? (c.xDom[0] < 50 ? 11 : 10.5) : 14;
          const cy = (g.top + g.bottom) / 2;
          const yx = g.left - c.yTitleOff;
          return (
            <g key={i}>
              <text x={yx} y={cy} transform={`rotate(-90 ${yx} ${cy})`} textAnchor="middle" dominantBaseline="central" fontSize={fs} fill="#000">{c.yLabel}</text>
              <text x={(g.left + g.right) / 2} y={c.xTitleY} textAnchor="middle" dominantBaseline="central" fontSize={fs} fill="#000">Airsac Radius [px]</text>
              {c.r && <text x={g.xs.px(c.rX as number)} y={c.rY} fontSize={18} fill="#000">{c.r}</text>}
            </g>
          );
        })}
        <ColorBar x={767} top={388} bottom={486} id="cbA" />
        <ColorBar x={1573} top={387} bottom={485} id="cbP" />
        <text x={63} y={541} fontSize={23} fill="#000">Sex</text>
        <LegendKey x={65} y={557} color={C.female} dot />
        <LegendKey x={65} y={576} color={C.male} dot />
        <text x={97} y={573} fontSize={19} fill="#000">Female</text>
        <text x={97} y={593} fontSize={19} fill="#000">Male</text>
        <text x={862} y={541} fontSize={23} fill="#000">Ageclass</text>
        <LegendKey x={861} y={554} color={C.sub} dot={false} />
        <LegendKey x={861} y={573} color={C.juv} dot={false} />
        <text x={893} y={571} fontSize={19} fill="#000">Subadult</text>
        <text x={893} y={590} fontSize={19} fill="#000">Juvenile</text>
      </svg>
    </div>
  );
}
